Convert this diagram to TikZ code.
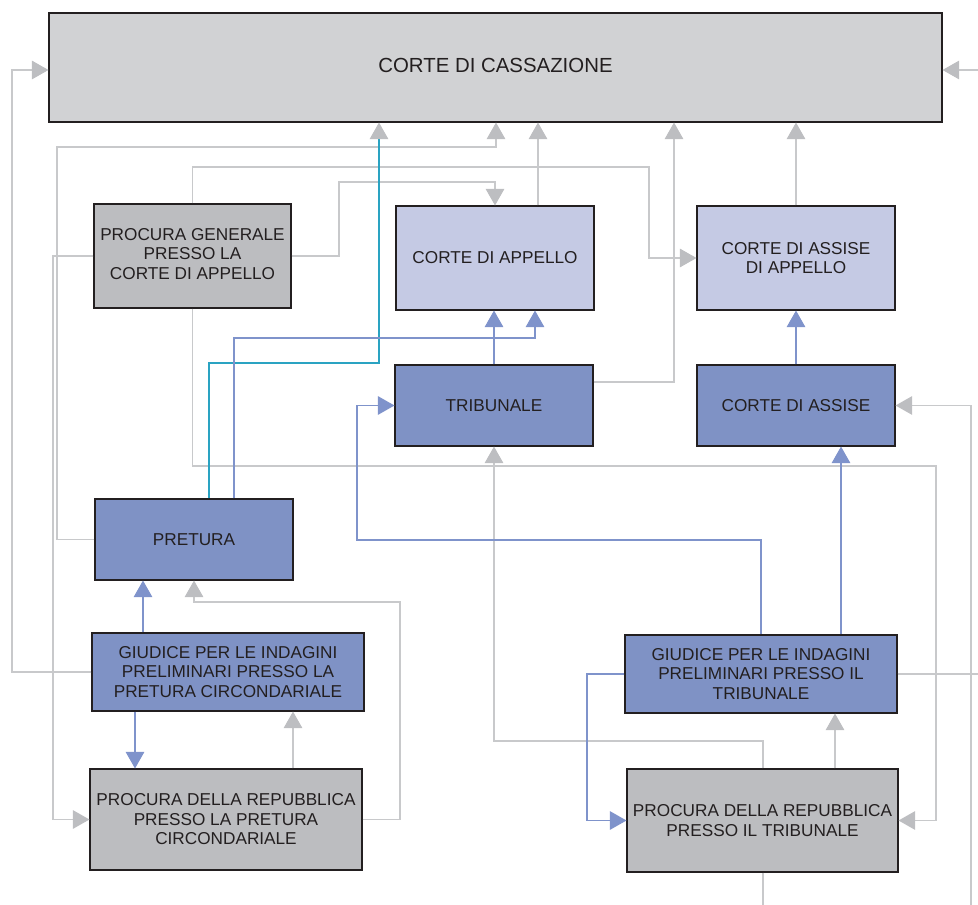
\documentclass[tikz,border=0pt]{standalone}
\usepackage{fontspec}
\setmainfont{Liberation Sans}
\usetikzlibrary{arrows.meta}

\definecolor{grigiocass}{HTML}{D1D2D4}
\definecolor{grigioproc}{HTML}{BCBDC0}
\definecolor{azzurro}{HTML}{C5CAE4}
\definecolor{blu}{HTML}{7F92C5}
\definecolor{testo}{HTML}{231F20}
\definecolor{lineagrigia}{HTML}{C8C9CB}
\definecolor{puntagrigia}{HTML}{BDBEC1}
\definecolor{lineablu}{HTML}{7F93CB}
\definecolor{ciano}{HTML}{2AA3C2}

\begin{document}
\begin{tikzpicture}[x=0.75pt, y=-0.75pt,
    ufficio/.style = {draw=testo, line width=0.8pt, text=testo, align=center, inner sep=0pt,
        font=\fontsize{12.9}{14.6}\selectfont},
    grigia/.style = {draw=lineagrigia, line width=0.8pt, -{Triangle[length=12.5pt, width=14pt, color=puntagrigia]}},
    blu/.style = {draw=lineablu, line width=0.8pt, -{Triangle[length=12.5pt, width=14pt, color=lineablu]}},
    semplice/.style = {draw=lineagrigia, line width=0.8pt}]

    \useasboundingbox (0,0) rectangle (978,905);

    % Uffici
    \node[ufficio, fill=grigiocass, minimum width=669.75pt, minimum height=81.75pt,
        font=\fontsize{15.3}{17}\selectfont] (cass) at (495.5,67.5) {\raisebox{3pt}{CORTE DI CASSAZIONE}};
    \node[ufficio, fill=grigioproc, minimum width=147.75pt, minimum height=78pt] (pg) at (192.5,256)
        {\raisebox{1.5pt}{\begin{tabular}{@{}c@{}}PROCURA GENERALE\\PRESSO LA\\CORTE DI APPELLO\end{tabular}}};
    \node[ufficio, fill=azzurro, minimum width=148.5pt, minimum height=78pt] (ca) at (495,258) {CORTE DI APPELLO};
    \node[ufficio, fill=azzurro, minimum width=148.5pt, minimum height=78pt] (caa) at (796,258)
        {CORTE DI ASSISE\\DI APPELLO};
    \node[ufficio, fill=blu, minimum width=148.5pt, minimum height=60.75pt] (trib) at (494,405.5) {TRIBUNALE};
    \node[ufficio, fill=blu, minimum width=148.5pt, minimum height=60.75pt] (cas) at (796,405.5) {CORTE DI ASSISE};
    \node[ufficio, fill=blu, minimum width=148.5pt, minimum height=60.75pt] (pret) at (194,539.5) {PRETURA};
    \node[ufficio, fill=blu, minimum width=204pt, minimum height=58.5pt] (gipp) at (228,672)
        {GIUDICE PER LE INDAGINI\\PRELIMINARI PRESSO LA\\PRETURA CIRCONDARIALE};
    \node[ufficio, fill=grigioproc, minimum width=204pt, minimum height=75.75pt] (prp) at (226,819.5)
        {PROCURA DELLA REPUBBLICA\\PRESSO LA PRETURA\\CIRCONDARIALE};
    \node[ufficio, fill=blu, minimum width=204pt, minimum height=58.5pt] (gipt) at (761,674)
        {GIUDICE PER LE INDAGINI\\PRELIMINARI PRESSO IL\\TRIBUNALE};
    \node[ufficio, fill=grigioproc, minimum width=203.25pt, minimum height=77.25pt] (prt) at (762.5,820.5)
        {PROCURA DELLA REPUBBLICA\\PRESSO IL TRIBUNALE};

    % Estremi liberi
    \coordinate (bordoA) at (978,70);
    \coordinate (bordoB) at (978,674);
    \coordinate (bordoC) at (971,905);
    \coordinate (bordoD) at (763,905);

    % Collegamenti grigi
    \draw[grigia] (gipp.west) -| (12,70) -- (cass.west |- 0,70);
    \draw[grigia] (bordoA) -- (cass.east |- bordoA);
    \draw[grigia] (caa.north) -- (caa.north |- cass.south);
    \draw[grigia] (ca.north -| 538,0) -- (cass.south -| 538,0);
    \draw[grigia] (trib.east |- 0,382) -| (cass.south -| 674,0);
    \draw[grigia] (pret.west) -| (57,147) -| (cass.south -| 496,0);
    \draw[grigia] (pg.north) |- (649,167) |- (caa.west);
    \draw[grigia] (pg.east) -| (339,182) -| (ca.north);
    \draw[grigia] (pg.west) -| (53,819.5) -- (prp.west);
    \draw[grigia] (pg.south) |- (936,466) |- (prt.east);
    \draw[grigia] (prp.east) -| (400,602) -| (pret.south);
    \draw[grigia] (prp.north -| 293,0) -- (gipp.south -| 293,0);
    \draw[grigia] (prt.north -| 835,0) -- (gipt.south -| 835,0);
    \draw[grigia] (prt.north -| 763,0) |- (494,741) -- (trib.south);
    \draw[grigia] (bordoC) |- (cas.east);
    \draw[semplice] (prt.south -| bordoD) -- (bordoD);
    \draw[semplice] (gipt.east) -- (bordoB);

    % Collegamento ciano
    \draw[grigia, draw=ciano] (pret.north -| 209,0) |- (379,363) -- (cass.south -| 379,0);

    % Collegamenti blu
    \draw[blu] (pret.north -| 234,0) |- (535,338) -- (ca.south -| 535,0);
    \draw[blu] (trib.north) -- (ca.south -| trib.north);
    \draw[blu] (cas.north) -- (caa.south);
    \draw[blu] (gipt.north) |- (357,540) |- (trib.west);
    \draw[blu] (gipt.north -| 841,0) -- (cas.south -| 841,0);
    \draw[blu] (gipt.west) -| (587,820.5) -- (prt.west);
    \draw[blu] (gipp.north -| 143,0) -- (pret.south -| 143,0);
    \draw[blu] (gipp.south -| 135,0) -- (prp.north -| 135,0);

\end{tikzpicture}
\end{document}
